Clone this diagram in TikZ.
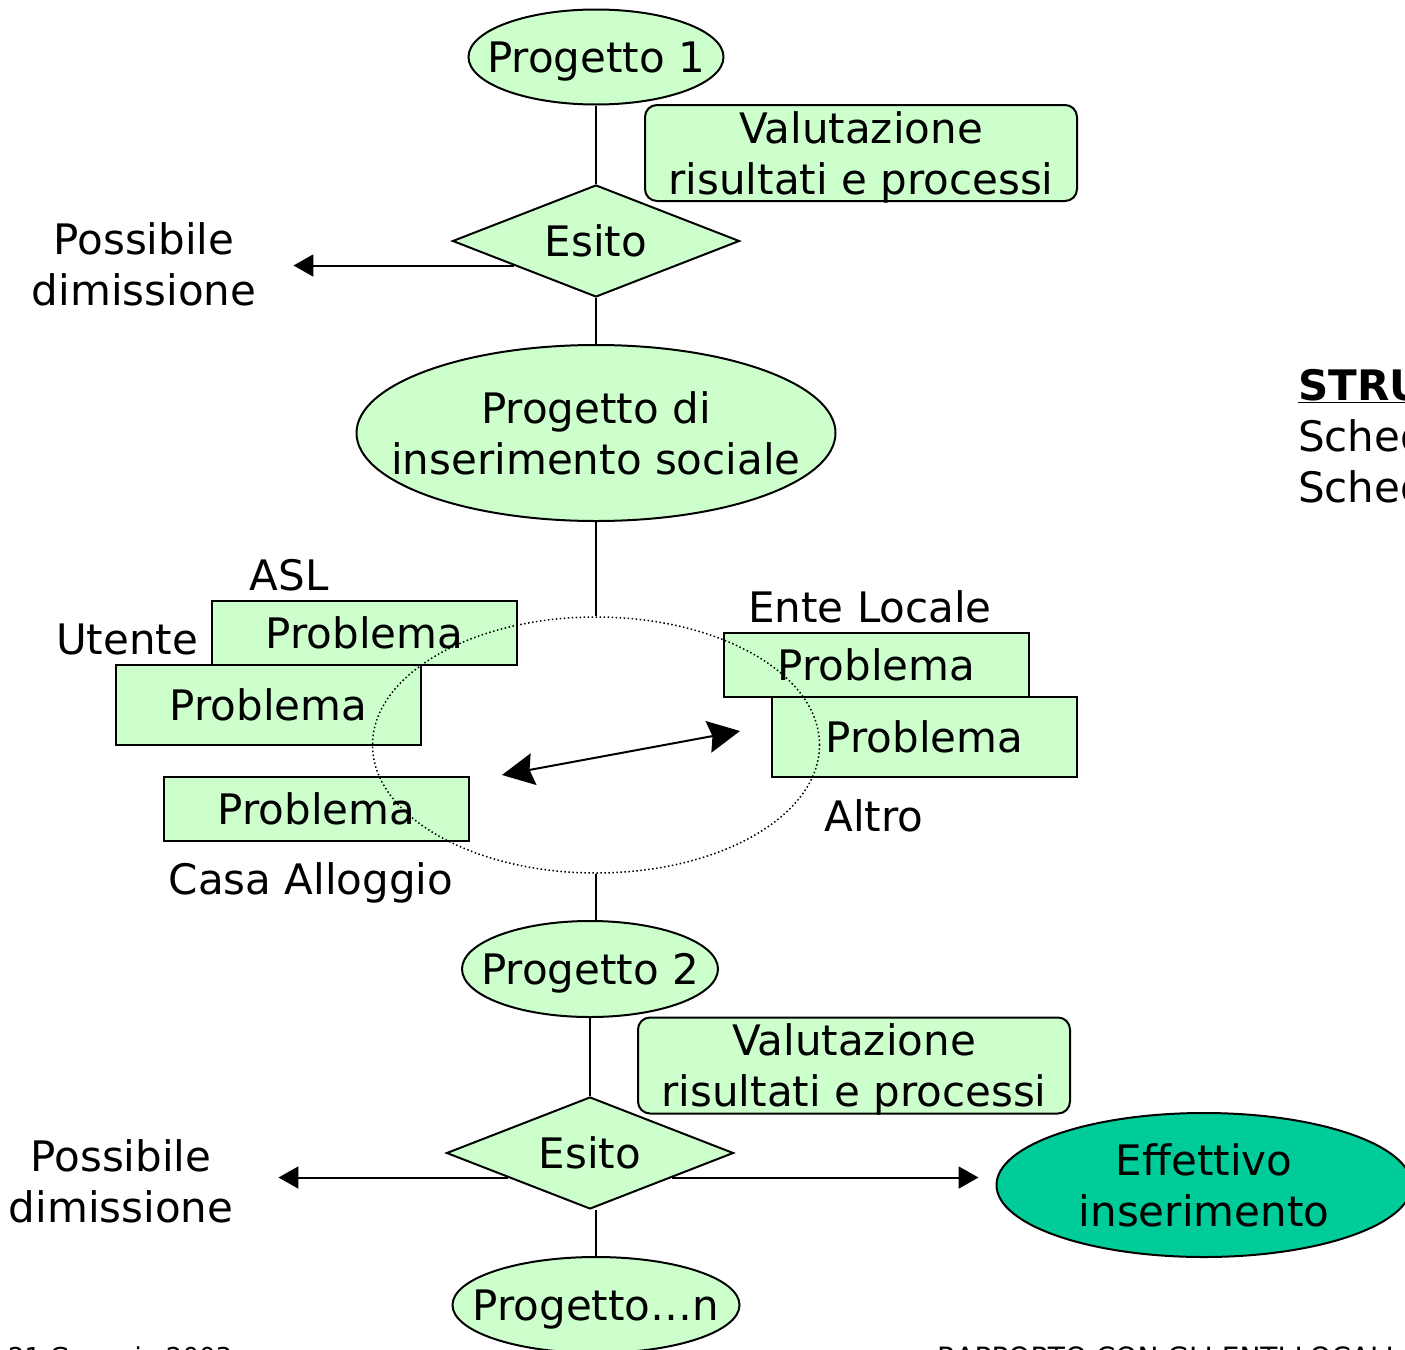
\documentclass[tikz,border=0pt]{standalone}
\usepackage{fontspec}
\setmainfont{DejaVu Sans}
\usepackage{tikz}
\usetikzlibrary{shapes.geometric,arrows.meta,calc}
\definecolor{green1}{HTML}{CCFFCC}
\definecolor{teal1}{HTML}{00CC99}

\begin{document}
\begin{tikzpicture}[
    x=1pt, y=-1pt,
    font=\fontsize{42}{51}\selectfont,
    blob/.style={ellipse, draw, line width=2pt, fill=green1, text depth=0pt,
                 inner xsep=-40pt, inner ysep=0pt, align=center},
    choice/.style={diamond, draw, line width=2pt, fill=green1, aspect=2.56,
                   minimum width=287pt, minimum height=112pt, inner sep=0pt},
    evalbox/.style={draw, line width=2pt, fill=green1, rounded corners=12pt,
                    minimum width=432pt, minimum height=96pt, text depth=0pt,
                    inner sep=0pt, align=center},
    probbox/.style={draw, line width=2pt, fill=green1,
                    minimum width=305pt, minimum height=64pt, inner sep=0pt},
    tag/.style={inner sep=0pt},
    link/.style={line width=2pt},
    arr/.style={line width=2pt, -{Triangle[length=20pt,width=22pt]}},
]
\useasboundingbox (0,0) rectangle (1405,1349);

% first project
\node[blob, minimum width=255pt, minimum height=95pt] (p1) at (596,57) {Progetto 1};
\node[evalbox] (val1) at (861,153) {Valutazione\\risultati e processi};
\node[choice] (esito1) at (596,241) {Esito};
\node[tag, align=center] (dim1) at (144,264) {Possibile\\dimissione};
\node[blob, minimum width=479pt, minimum height=176pt]
    (pis) at (596,433) {Progetto di\\inserimento sociale};

% problems
\node[probbox] (asl) at (364.5,633) {Problema};
\node[probbox, minimum height=80pt] (ute) at (268.5,705) {Problema};
\node[probbox] (casa) at (316.5,809) {Problema};
\node[probbox] (ente) at (876.5,665) {Problema};
\node[probbox, minimum height=80pt] (altro) at (924.5,737) {Problema};

\node[tag, anchor=base] (aslt) at (289,590) {ASL};
\node[tag, anchor=base] (utet) at (127,654) {Utente};
\node[tag, anchor=base] (casat) at (311,894) {Casa Alloggio};
\node[tag, anchor=base] (entet) at (870,622) {Ente Locale};
\node[tag, anchor=base] (altrot) at (874,831) {Altro};

\node[ellipse, draw, line width=1.5pt, dash pattern=on 1.5pt off 2.5pt,
      minimum width=447pt, minimum height=256pt, inner sep=0pt] (ring) at (596,745) {};
\coordinate (ringl) at (502,775);
\coordinate (ringr) at (740,731);
\draw[line width=2pt, {Stealth[length=32pt,width=32pt,inset=4pt]}-{Stealth[length=32pt,width=32pt,inset=4pt]}]
    (ringl) -- (ringr);

% second project
\node[blob, minimum width=256pt, minimum height=96pt] (p2) at (590,969) {Progetto 2};
\node[evalbox] (val2) at (854,1065.5) {Valutazione\\risultati e processi};
\node[choice] (esito2) at (590,1153) {Esito};
\node[tag, align=center] (dim2) at (121,1181) {Possibile\\dimissione};
\node[blob, fill=teal1, minimum width=415pt, minimum height=144pt]
    (eff) at (1204,1185) {Effettivo\\inserimento};
\node[blob, minimum width=287pt, minimum height=96pt] (pn) at (596,1305) {Progetto…n};

% cut off at the edges
\node[tag, anchor=base west, font=\fontsize{42}{51}\selectfont\bfseries]
    (tools) at (1298,400) {\underline{STRU}};
\node[tag, anchor=base west] (sch1) at (1298,451) {Sched};
\node[tag, anchor=base west] (sch2) at (1298,502) {Sched};
\node[tag, anchor=base west, font=\fontsize{26}{30}\selectfont]
    (date) at (8,1366) {21 Gennaio 2003};
\node[tag, anchor=base west, font=\fontsize{28}{30}\selectfont]
    (title) at (937,1367) {RAPPORTO CON GLI ENTI LOCALI};

% connectors
\draw[link] (p1) -- (esito1);
\draw[link] (esito1) -- (pis);
\draw[link] (pis) -- (ring);
\draw[link] (ring.south) -- (ring.south |- p2.north);
\draw[link] (p2) -- (esito2);
\draw[link] (pn.north) -- (pn.north |- esito2.south);

\coordinate (e1l) at ($(esito1.west)!0.43!(esito1.south)$);
\coordinate (e2l) at ($(esito2.west)!0.43!(esito2.south)$);
\coordinate (e2r) at ($(esito2.east)!0.43!(esito2.south)$);
\draw[arr] (e1l) -- ($(dim1.east |- e1l)+(37,0)$);
\draw[arr] (e2l) -- ($(dim2.east |- e2l)+(45,0)$);
\draw[arr] (e2r) -- ($(eff.west |- e2r)+(-17,0)$);
\end{tikzpicture}
\end{document}
